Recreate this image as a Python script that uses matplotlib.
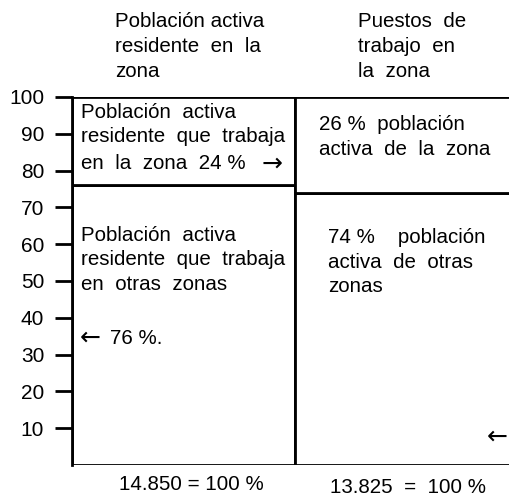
import matplotlib
matplotlib.use('Agg')
from matplotlib import pyplot as plt

plt.rcParams['font.family'] = ['Liberation Sans', 'DejaVu Sans']

# data
columnas = [0.5, 1.5]
total_abs = ['14.850 = 100 %', '13.825  =  100 %']
abajo = [76, 74]     # parte inferior de cada columna (%)
arriba = [24, 26]    # parte superior (%)
ticks = [10, 20, 30, 40, 50, 60, 70, 80, 90, 100]
titulos = ['Población activa\nresidente  en  la\nzona', 'Puestos  de\ntrabajo  en\nla  zona']

fig = plt.figure(figsize=(5.09, 5.0), dpi=100)
ax = fig.add_axes([0.1415, 0.07, 0.876, 0.736])

ax.bar(columnas, abajo, width=1.0, color='white', edgecolor='black', linewidth=2)
ax.bar(columnas, arriba, bottom=abajo, width=1.0, color='white', edgecolor='black', linewidth=2)

ax.set_xlim(0, 2)
ax.set_ylim(0, 100)
ax.set_yticks(ticks)
ax.set_xticks([])
for s in ['top', 'right', 'bottom']:
    ax.spines[s].set_visible(False)
ax.spines['left'].set_linewidth(2)
ax.tick_params(axis='y', direction='out', length=12, width=2, pad=8, labelsize=15)

fs = 14.8
ls = 1.38
arr = ['DejaVu Sans']
ax.text(0.04, 98.5, 'Población  activa\nresidente  que  trabaja', fontsize=fs,
        va='top', ha='left', linespacing=ls)
ax.text(0.04, 81.8, 'en  la  zona  24 %', fontsize=fs, va='center', ha='left')
ax.text(0.85, 82, '→', fontsize=18, va='center', ha='left', family=arr)
ax.text(0.04, 65, 'Población  activa\nresidente  que  trabaja\nen  otras  zonas', fontsize=fs,
        va='top', ha='left', linespacing=ls)
ax.text(0.036, 34.5, '←', fontsize=18, va='center', ha='left', family=arr)
ax.text(0.17, 34.5, '76 %.', fontsize=fs, va='center', ha='left')
ax.text(1.11, 95, '26 %  población\nactiva  de  la  zona', fontsize=fs,
        va='top', ha='left', linespacing=ls)
ax.text(1.148, 64.4, '74 %    población\nactiva  de  otras\nzonas', fontsize=fs,
        va='top', ha='left', linespacing=ls)
ax.text(1.86, 7.6, '←', fontsize=18, va='center', ha='left', family=arr)

ax.text(0.193, 123, titulos[0], fontsize=fs, va='top', ha='left', linespacing=ls, clip_on=False)
ax.text(1.283, 123, titulos[1], fontsize=fs, va='top', ha='left', linespacing=ls, clip_on=False)
ax.text(0.534, -5.4, total_abs[0], fontsize=fs, va='center', ha='center', clip_on=False)
ax.text(1.507, -6.2, total_abs[1], fontsize=fs, va='center', ha='center', clip_on=False)

plt.savefig('out.png', dpi=100)
